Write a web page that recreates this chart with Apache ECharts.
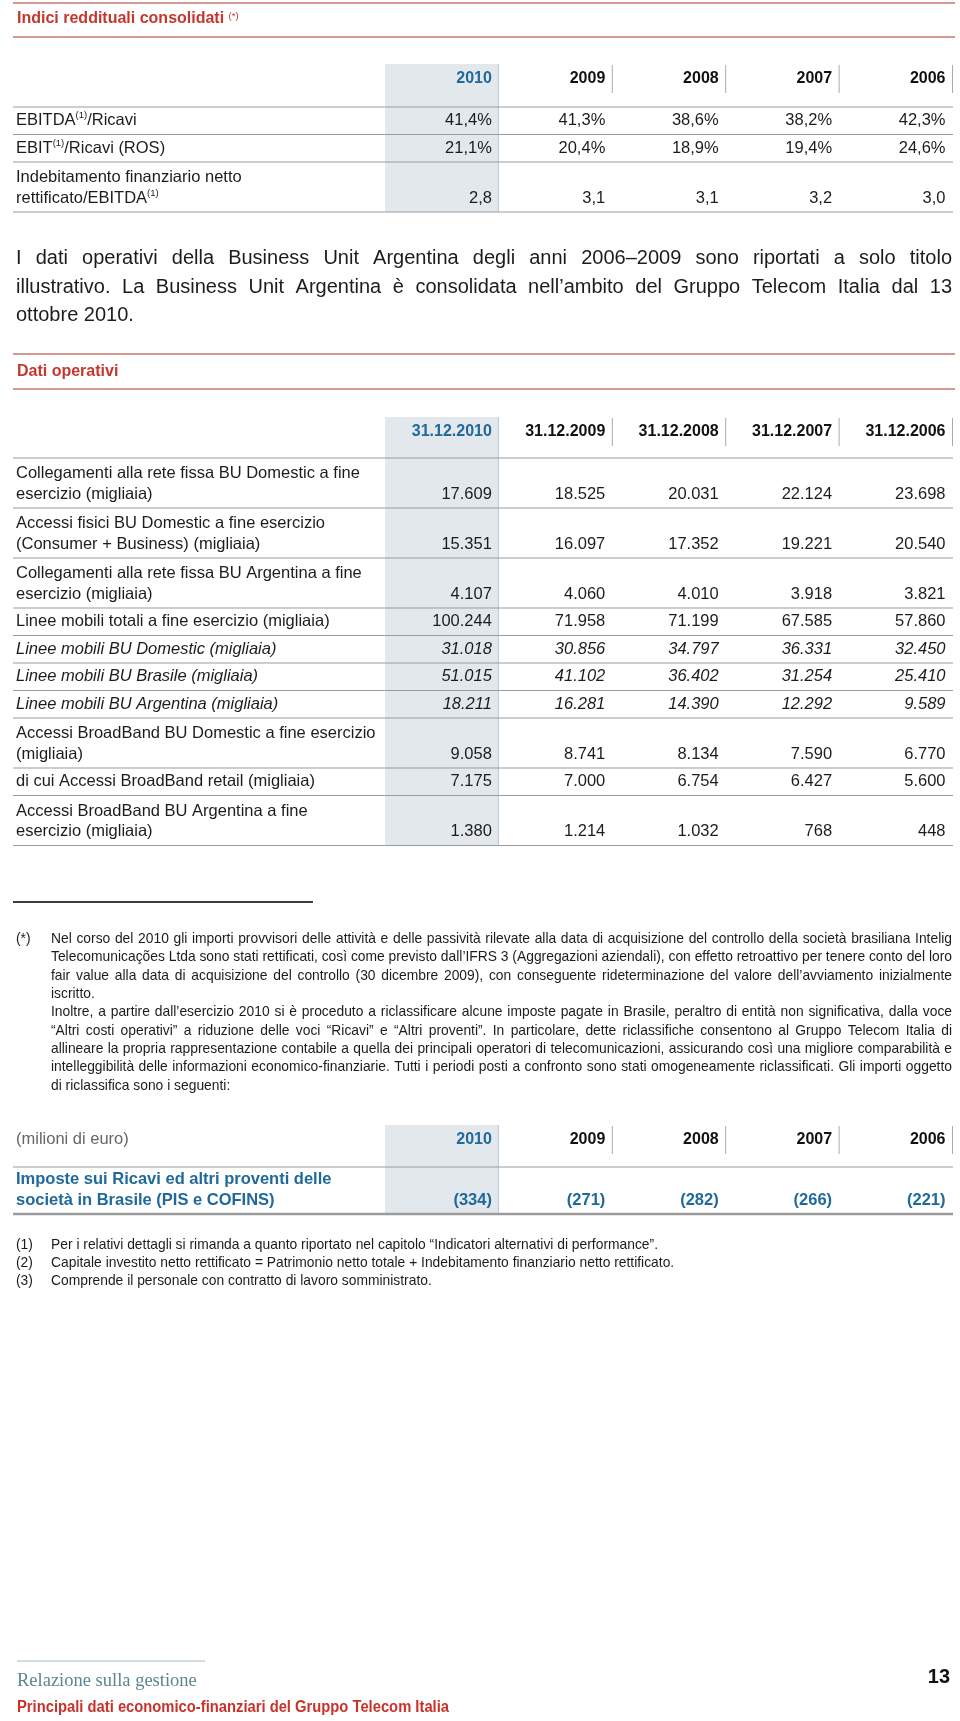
<!DOCTYPE html>
<html><head><meta charset="utf-8">
<script src="https://cdn.jsdelivr.net/npm/echarts@6/dist/echarts.min.js"></script>
<style>html,body{margin:0;padding:0;background:#fff}#c{width:960px;height:1721px}</style>
</head><body><div id="c"></div>
<script>
// ---------------- DATA ----------------
const years = ['2010', '2009', '2008', '2007', '2006'];
const opDates = ['31.12.2010', '31.12.2009', '31.12.2008', '31.12.2007', '31.12.2006'];

const indiciLabels = [
  'EBITDA{s|(1)}/Ricavi',
  'EBIT{s|(1)}/Ricavi (ROS)',
  'Indebitamento finanziario netto\nrettificato/EBITDA{s|(1)}'
];
const indiciValues = [
  [41.4, 41.3, 38.6, 38.2, 42.3],
  [21.1, 20.4, 18.9, 19.4, 24.6],
  [2.8, 3.1, 3.1, 3.2, 3.0]
];
const indiciUnits = ['%', '%', ''];

const operLabels = [
  'Collegamenti alla rete fissa BU Domestic a fine\nesercizio (migliaia)',
  'Accessi fisici BU Domestic a fine esercizio\n(Consumer + Business) (migliaia)',
  'Collegamenti alla rete fissa BU Argentina a fine\nesercizio (migliaia)',
  'Linee mobili totali a fine esercizio (migliaia)',
  'Linee mobili BU Domestic (migliaia)',
  'Linee mobili BU Brasile (migliaia)',
  'Linee mobili BU Argentina (migliaia)',
  'Accessi BroadBand BU Domestic a fine esercizio\n(migliaia)',
  'di cui Accessi BroadBand retail (migliaia)',
  'Accessi BroadBand BU Argentina a fine\nesercizio (migliaia)'
];
const operValues = [
  [17609, 18525, 20031, 22124, 23698],
  [15351, 16097, 17352, 19221, 20540],
  [4107, 4060, 4010, 3918, 3821],
  [100244, 71958, 71199, 67585, 57860],
  [31018, 30856, 34797, 36331, 32450],
  [51015, 41102, 36402, 31254, 25410],
  [18211, 16281, 14390, 12292, 9589],
  [9058, 8741, 8134, 7590, 6770],
  [7175, 7000, 6754, 6427, 5600],
  [1380, 1214, 1032, 768, 448]
];
const operItalicRows = [4, 5, 6];

const imposteLabels = ['Imposte sui Ricavi ed altri proventi delle\nsocietà in Brasile (PIS e COFINS)'];
const imposteValues = [[-334, -271, -282, -266, -221]];

const paragraphLines = [
  'I dati operativi della Business Unit Argentina degli anni 2006–2009 sono riportati a solo titolo',
  'illustrativo. La Business Unit Argentina è consolidata nell’ambito del Gruppo Telecom Italia dal 13',
  'ottobre 2010.'
];
const noteStarLines = [
  'Nel corso del 2010 gli importi provvisori delle attività e delle passività rilevate alla data di acquisizione del controllo della società brasiliana Intelig',
  'Telecomunicações Ltda sono stati rettificati, così come previsto dall’IFRS 3 (Aggregazioni aziendali), con effetto retroattivo per tenere conto del loro',
  'fair value alla data di acquisizione del controllo (30 dicembre 2009), con conseguente rideterminazione del valore dell’avviamento inizialmente',
  'iscritto.',
  'Inoltre, a partire dall’esercizio 2010 si è proceduto a riclassificare alcune imposte pagate in Brasile, peraltro di entità non significativa, dalla voce',
  '“Altri costi operativi” a riduzione delle voci “Ricavi” e “Altri proventi”. In particolare, dette riclassifiche consentono al Gruppo Telecom Italia di',
  'allineare la propria rappresentazione contabile a quella dei principali operatori di telecomunicazioni, assicurando così una migliore comparabilità e',
  'intelleggibilità delle informazioni economico-finanziarie. Tutti i periodi posti a confronto sono stati omogeneamente riclassificati. Gli importi oggetto',
  'di riclassifica sono i seguenti:'
];
const noteStarJustify = [true, true, true, false, true, true, true, true, false];
const numberedNotes = [
  ['(1)', 'Per i relativi dettagli si rimanda a quanto riportato nel capitolo “Indicatori alternativi di performance”.'],
  ['(2)', 'Capitale investito netto rettificato = Patrimonio netto totale + Indebitamento finanziario netto rettificato.'],
  ['(3)', 'Comprende il personale con contratto di lavoro somministrato.']
];

// ---------------- STYLE ----------------
const SANS = '"Liberation Sans", Arial, sans-serif';
const SERIF = '"Liberation Serif", "DejaVu Serif", serif';
const RED = '#c5372d', BLUE = '#21699b', TEXT = '#1c1c1c', SHADE = '#e3e8ed', SHADE_EDGE = '#b7c8d5';
const RULE = '#9b9b9b', RED_RULE = '#d39a94';
const LABEL_X = 16, LINE_X0 = 13, LINE_X1 = 953;
const BODY_SIZE = 16.5, HEAD_SIZE = 16, LH = 20.5;

function fontStr(size, family, weight, style) {
  return (style || 'normal') + ' ' + (weight || 'normal') + ' ' + size + 'px ' + family;
}
const mctx = document.createElement('canvas').getContext('2d');
function measure(t, f) { mctx.font = f; return mctx.measureText(t).width; }

function fmtThousands(v) {
  const s = String(Math.abs(v)).replace(/\B(?=(\d{3})+(?!\d))/g, '.');
  return v < 0 ? '(' + s + ')' : s;
}
function fmtDec(v, unit) { return v.toFixed(1).replace('.', ',') + unit; }

// ---------------- GRAPHIC (static text) ----------------
const G = [];
function txt(x, y, text, font, fill, align, sx) {
  G.push({
    type: 'text', x: x, y: y, scaleX: sx || 1, silent: true,
    style: { text: text, font: font, fill: fill, align: align || 'left', verticalAlign: 'middle',
             textAlign: align || 'left', textVerticalAlign: 'middle' }
  });
}
function rule(x1, y, x2, color, w) {
  G.push({ type: 'line', silent: true, shape: { x1: x1, y1: y, x2: x2, y2: y }, style: { stroke: color, lineWidth: w } });
}
function lineJustified(text, x0, x1, y, font, fill, justify, sx) {
  sx = sx || 1;
  if (!justify) { txt(x0, y, text, font, fill, 'left', sx); return; }
  const words = text.split(' ');
  const ws = words.map(w => measure(w, font) * sx);
  const total = ws.reduce((a, b) => a + b, 0);
  const gap = (x1 - x0 - total) / (words.length - 1);
  let x = x0;
  words.forEach((w, i) => { txt(x, y, w, font, fill, 'left', sx); x += ws[i] + gap; });
}

// Section 1 title
rule(LINE_X0, 3, 955, RED_RULE, 2);
G.push({ type: 'text', x: 17, y: 19, silent: true, style: {
  text: 'Indici reddituali consolidati {s|(*)}', font: fontStr(16, SANS, 'bold'), fill: RED,
  verticalAlign: 'middle', textVerticalAlign: 'middle',
  rich: { s: { font: fontStr(9.5, SANS, 'normal'), fill: RED, verticalAlign: 'top' } } } });
rule(LINE_X0, 37, 955, RED_RULE, 2);

// Paragraph
const PFONT = fontStr(20, SANS, 'normal');
paragraphLines.forEach((l, i) => lineJustified(l, 16, 952, 258.5 + i * 28.5, PFONT, TEXT, i < 2));

// Section 2 title
rule(LINE_X0, 354, 955, RED_RULE, 2);
txt(17, 372, 'Dati operativi', fontStr(16, SANS, 'bold'), RED);
rule(LINE_X0, 389, 955, RED_RULE, 2);

// Footnote separator and notes (condensed by horizontal scaling)
rule(LINE_X0, 902, 313, '#3d3d3d', 2);
const NFONT = fontStr(14.5, SANS, 'normal');
const NSX = 607 / measure(numberedNotes[0][1], NFONT);
txt(16, 939, '(*)', NFONT, TEXT, 'left', NSX);
noteStarLines.forEach((l, i) => lineJustified(l, 51, 952, 939 + i * 18.35, NFONT, TEXT, noteStarJustify[i], NSX));
numberedNotes.forEach((n, i) => { txt(16, 1245 + i * 18, n[0], NFONT, TEXT, 'left', NSX); txt(51, 1245 + i * 18, n[1], NFONT, TEXT, 'left', NSX); });

// Footer
rule(17, 1661, 205, '#a8bec6', 1.2);
txt(17, 1681, 'Relazione sulla gestione', fontStr(18.5, SERIF, 'normal'), '#5d8690');
txt(950, 1677, '13', fontStr(21, SANS, 'bold'), '#111', 'right', 0.95);
const FFONT = fontStr(16, SANS, 'bold');
const FTEXT = 'Principali dati economico-finanziari del Gruppo Telecom Italia';
txt(17, 1708, FTEXT, FFONT, '#c8322b', 'left', 432 / measure(FTEXT, FFONT));

// ---------------- TABLES (custom series on category/value axes) ----------------
const tables = [
  { top: 64, hdr: 43, single: 27.5, dbl: 50, heads: years, labels: indiciLabels,
    cells: indiciValues.map((r, i) => r.map(v => fmtDec(v, indiciUnits[i]))), italic: [], corner: '', emph: false, thick: false },
  { top: 417, hdr: 41, single: 27.5, dbl: 50, heads: opDates, labels: operLabels,
    cells: operValues.map(r => r.map(fmtThousands)), italic: operItalicRows, corner: '', emph: false, thick: false },
  { top: 1125, hdr: 42, single: 27.5, dbl: 47, heads: years, labels: imposteLabels,
    cells: imposteValues.map(r => r.map(fmtThousands)), italic: [], corner: '(milioni di euro)', emph: true, thick: true }
];
tables.forEach(t => {
  t.rows = [{ start: 0, end: t.hdr, header: true }];
  let y = t.hdr;
  t.labels.forEach((l, i) => {
    const h = l.indexOf('\n') >= 0 ? t.dbl : t.single;
    t.rows.push({ start: y, end: y + h, i: i });
    y += h;
  });
  t.total = y;
});

function makeRender(k) {
  return function (params, api) {
    const t = tables[k];
    const ri = api.value(2);
    const row = t.rows[ri];
    const yT = api.coord([0, row.start])[1];
    const yB = api.coord([0, row.end])[1];
    const bw = api.size([1, 0])[0];
    const right = i => api.coord([i, row.start])[0] + bw / 2;
    const ch = [];
    ch.push({ type: 'rect', z2: 0, shape: { x: right(0) - bw, y: yT, width: bw, height: yB - yT }, style: { fill: SHADE } });
    ch.push({ type: 'line', z2: 1, shape: { x1: right(0), y1: yT, x2: right(0), y2: yB }, style: { stroke: SHADE_EDGE, lineWidth: 1 } });
    if (row.header) {
      t.heads.forEach((h, i) => {
        ch.push({ type: 'text', z2: 5, style: { text: h, x: right(i) - 6.5, y: yT + 14.5, align: 'right', verticalAlign: 'middle',
          font: fontStr(HEAD_SIZE, SANS, 'bold'), fill: i === 0 ? BLUE : '#111' } });
        if (i > 0) ch.push({ type: 'line', z2: 2, shape: { x1: right(i) + 0.5, y1: yT + 1, x2: right(i) + 0.5, y2: yT + 29 },
          style: { stroke: '#aaaaaa', lineWidth: 1 } });
      });
      if (t.corner) ch.push({ type: 'text', z2: 5, style: { text: t.corner, x: LABEL_X, y: yT + 14.5, align: 'left', verticalAlign: 'middle',
        font: fontStr(BODY_SIZE, SANS, 'normal'), fill: '#666' } });
    } else {
      const it = t.italic.indexOf(row.i) >= 0;
      const f = fontStr(BODY_SIZE, SANS, t.emph ? 'bold' : 'normal', it ? 'italic' : 'normal');
      const fill = t.emph ? BLUE : TEXT;
      ch.push({ type: 'text', z2: 5, style: { text: t.labels[row.i], x: LABEL_X, y: yB - 3.5, align: 'left', verticalAlign: 'bottom',
        lineHeight: LH, font: f, fill: fill,
        rich: { s: { font: fontStr(9.5, SANS, 'normal'), fill: fill, verticalAlign: 'top' } } } });
      t.cells[row.i].forEach((v, i) => {
        ch.push({ type: 'text', z2: 5, style: { text: v, x: right(i) - 6.5, y: yB - 3.5, align: 'right', verticalAlign: 'bottom',
          lineHeight: LH, font: f, fill: fill } });
      });
    }
    const last = ri === t.rows.length - 1;
    ch.push({ type: 'line', z2: 3, shape: { x1: LINE_X0, y1: yB, x2: LINE_X1, y2: yB },
      style: { stroke: RULE, lineWidth: (t.thick && last) ? 2.4 : 1.2 } });
    return { type: 'group', children: ch };
  };
}

const option = {
  backgroundColor: '#ffffff',
  animation: false,
  grid: tables.map(t => ({ left: 385, width: 567, top: t.top, height: t.total })),
  xAxis: tables.map((t, k) => ({ type: 'category', gridIndex: k, data: t.heads, show: false })),
  yAxis: tables.map((t, k) => ({ type: 'value', gridIndex: k, inverse: true, min: 0, max: t.total, show: false })),
  series: tables.map((t, k) => ({
    type: 'custom', xAxisIndex: k, yAxisIndex: k, silent: true, clip: false,
    data: t.rows.map((r, i) => [0, r.start, i]),
    renderItem: makeRender(k)
  })),
  graphic: { elements: G }
};

const chart = echarts.init(document.getElementById('c'), null, { renderer: 'canvas', width: 960, height: 1721 });
chart.setOption(option);
</script>
</body></html>
